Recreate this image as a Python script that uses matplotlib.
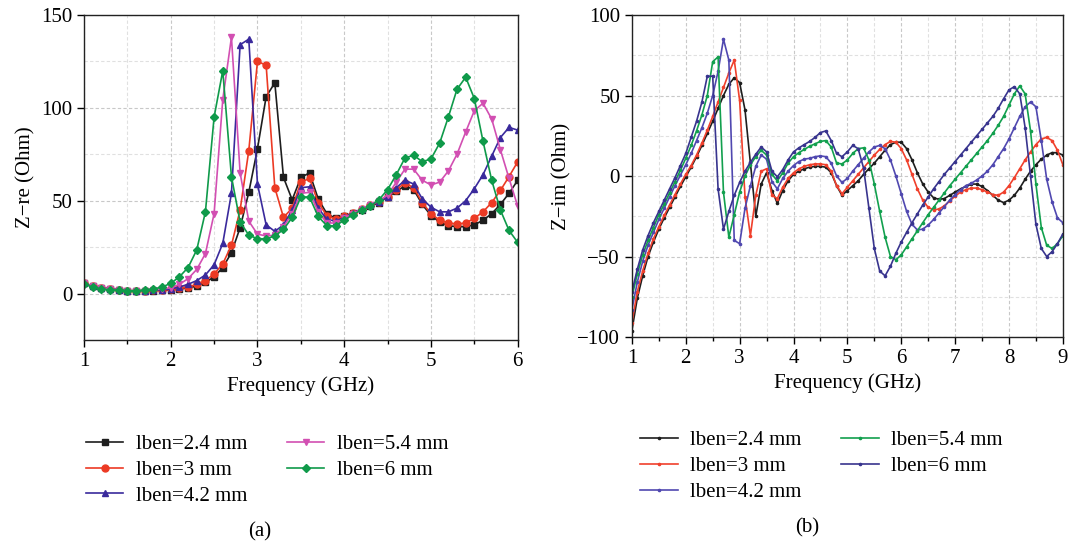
import numpy as np
import matplotlib
matplotlib.use('Agg')
import matplotlib.pyplot as plt
from matplotlib.ticker import MultipleLocator

plt.rcParams['font.family'] = ['Liberation Serif', 'DejaVu Serif']

labels = ['lben=2.4 mm', 'lben=3 mm', 'lben=4.2 mm', 'lben=5.4 mm', 'lben=6 mm']

# (a) real part, 1.0 .. 6.0 GHz step 0.1
freq_a = np.round(np.arange(1.0, 6.01, 0.1), 1)
zre_24 = [5.5, 4, 3, 2.5, 2, 1.5, 1.5, 1.5, 1.5, 1.8,
          2, 2.5, 3, 4, 6, 9, 14, 22, 35.5, 54.5,
          78, 106, 113.5, 62.5, 50.5, 62.5, 65, 51, 43, 40.5,
          41.5, 43.5, 45, 47, 49, 52, 55, 58, 56, 48,
          42, 38.5, 36.5, 36, 36, 37, 39.5, 43, 48, 54, 61]
zre_30 = [5.5, 4, 3, 2.5, 2, 1.5, 1.5, 1.5, 1.8, 2,
          2.3, 3, 3.5, 5, 7, 10.5, 16, 26, 45, 77,
          125, 123, 57, 41, 46, 60, 62, 49, 42, 40,
          41.5, 43.5, 45.5, 47.5, 49.5, 52, 56, 59.5, 57, 49,
          43, 39.5, 38, 37.5, 38, 40.5, 44, 49, 55.5, 63, 71]
zre_42 = [5.5, 4, 3, 2.5, 2, 1.5, 1.5, 1.6, 1.8, 2,
          2.5, 3.5, 5, 7, 10, 15.5, 27, 54, 134, 137,
          59, 37, 33.5, 37, 45, 57, 57.5, 46, 40, 39,
          41, 43.5, 45.5, 47.5, 49.5, 52, 57, 61, 59, 51,
          46.5, 44, 44, 46, 50, 56.5, 64, 74, 84, 89.5, 88]
zre_54 = [5.5, 4, 3, 2.5, 2, 1.6, 1.5, 1.6, 2, 2.5,
          3, 5, 8, 13, 21.5, 43, 104.5, 138, 65, 39,
          32, 31, 31.5, 36, 43, 54, 54.5, 44, 38, 38,
          40.5, 43, 45.5, 47.5, 50, 53, 60, 67, 67, 61,
          58.5, 60, 66, 75, 87, 98.5, 102.5, 94, 77.5, 62, 47]
zre_60 = [5, 3.5, 2.5, 2, 1.8, 1.5, 1.5, 1.8, 2.5, 3.5,
          5.5, 9, 14, 23.5, 44, 95, 120, 63, 38.5, 31.5,
          29.5, 29.5, 31, 34.5, 41, 52, 52, 41.5, 36.5, 36.5,
          39.5, 42.5, 45, 47, 50.5, 56, 64, 73, 74.5, 71,
          72.5, 81, 95, 110, 116.5, 105, 82, 61, 45, 34, 27.5]

# (b) imaginary part, 1.0 .. 9.0 GHz step 0.1
freq_b = np.round(np.arange(1.0, 9.01, 0.1), 1)
zim_24 = [-96, -76, -62, -50, -41, -33, -26, -19.5, -13, -6.5,
          -0.5, 5.5, 12, 19, 26.5, 34, 42, 50, 57, 61,
          58, 41, 8, -25, -5, 2, -9, -17, -9, -3,
          1, 3, 4.5, 5.5, 6, 6, 5.5, 2, -6, -12,
          -9, -6, -3, 1, 4.5, 8, 12, 16, 19.5, 21,
          21, 17, 10, 2, -5, -10, -13.5, -14.5, -14, -12,
          -10, -8, -6.5, -5, -5, -6.5, -9, -12, -15, -16.5,
          -15, -12, -7.5, -2, 3, 7, 10.5, 13, 14.5, 14.5, 13]
zim_30 = [-91, -72, -59, -48, -39, -31.5, -24.5, -18, -11.5, -5,
          1, 6.5, 13, 20.5, 28.5, 37, 46, 55, 64, 72,
          47, -13, -37, -12, 3, 4.5, -12, -14, -7, -1.5,
          2, 4.5, 6, 7, 7.5, 7.5, 7, 3, -6, -11,
          -7, -3, 1, 5, 9, 13, 16.5, 19.5, 21.5, 21,
          17, 10, 1, -8, -15, -19.5, -21, -20.5, -18.5, -15.5,
          -12.5, -10, -8.5, -7.5, -7.5, -8.5, -10, -11.5, -12, -10,
          -6, -1, 4.5, 10, 15, 19.5, 23, 24, 22, 16, 7]
zim_42 = [-83, -66, -53, -43, -35, -27, -20, -13, -6, 0.5,
          7, 14, 22, 30, 39, 50, 65, 85, 72, -40,
          -42, -20, -6, 6, 13, 10.5, -3.5, -8, -1.5, 3,
          6.5, 9, 10.5, 11, 12, 12.5, 12, 8, 0, -4,
          -1.5, 3, 7, 11, 15, 18, 19, 17, 10, 0,
          -11, -22, -30, -33.5, -33, -30.5, -27, -23, -19, -15,
          -11.5, -8.5, -6, -4.5, -2.5, 0, 3, 7, 12, 17,
          23, 30, 37, 43, 46, 43, 22, -2, -16, -26, -29]
zim_54 = [-75, -61, -49, -40, -32, -24, -17.5, -10.5, -3.5, 3.5,
          11, 19, 28, 38, 50, 71, 74, -10, -38, -24,
          -10, 0, 7, 12, 16, 13, 1, -3, 2, 8,
          12, 14.5, 16.5, 18.5, 20, 21.5, 22, 18, 8, 7.5,
          10, 14, 17, 17.5, 10, -5, -22, -38, -50, -52,
          -49, -44, -39, -34, -29, -24, -19.5, -15, -10.5, -6,
          -2, 2, 6, 10, 14, 18, 22, 26.5, 31.5, 37,
          44, 51, 56, 51, 28, -5, -32, -43, -45, -42, -37]
zim_60 = [-72, -58, -46, -37, -29, -22, -15, -8, -1, 6.5,
          14, 24, 34, 46, 62, 62, -8, -33, -22, -12,
          -4, 3, 8.5, 13.5, 18, 15, 3, -0.5, 4, 10,
          15, 17.5, 19.5, 21.5, 24, 27, 28, 22, 14, 12,
          15, 19, 17, 5, -20, -45, -59, -62, -56, -48,
          -41, -35, -29, -23.5, -18, -13, -8, -3.5, 1, 5,
          9, 13, 17, 21, 25, 29, 33, 37, 42, 48,
          53.5, 55.5, 51, 30, 0, -30, -45, -50, -47, -42, -36]

re_series = [zre_24, zre_30, zre_42, zre_54, zre_60]
re_colors = ['#1e1e1e', '#ec3a24', '#3a2a9c', '#d24fb2', '#0f9a4a']
re_markers = ['s', 'o', '^', 'v', 'D']

im_series = [zim_24, zim_30, zim_42, zim_54, zim_60]
im_colors = ['#1e1e1e', '#f0402c', '#5048b0', '#12a04e', '#38348e']

fig = plt.figure(figsize=(10.71, 5.48), dpi=100)
ax1 = fig.add_axes([0.0784, 0.3796, 0.405, 0.593])
ax2 = fig.add_axes([0.590, 0.385, 0.4024, 0.5876])


def style_axes(ax):
    ax.grid(which='major', color='#c8c8c8', linestyle=(0, (3, 2)), linewidth=0.8)
    ax.grid(which='minor', color='#e0e0e0', linestyle=(0, (3, 2)), linewidth=0.8)
    ax.set_axisbelow(True)
    ax.tick_params(which='major', direction='out', length=5, width=1, labelsize=15)
    ax.tick_params(which='minor', direction='out', length=3, width=1)
    ax.tick_params(axis='y', which='minor', length=0)
    for s in ax.spines.values():
        s.set_linewidth(1.0)
        s.set_color('#222222')
    ax.set_xlabel('Frequency (GHz)', fontsize=15)


for y, c, m, lab in zip(re_series, re_colors, re_markers, labels):
    ms = 4.2 if m == 'D' else 5
    ax1.plot(freq_a, y, color=c, marker=m, markersize=ms, linewidth=1.2, label=lab)
ax1.set_xlim(1, 6)
ax1.set_ylim(-25, 150)
ax1.xaxis.set_major_locator(MultipleLocator(1))
ax1.xaxis.set_minor_locator(MultipleLocator(0.5))
ax1.set_yticks([0, 50, 100, 150])
ax1.yaxis.set_minor_locator(MultipleLocator(25))
ax1.set_ylabel('Z\u2212re (Ohm)', fontsize=15)
style_axes(ax1)

for y, c, lab in zip(im_series, im_colors, labels):
    ax2.plot(freq_b, y, color=c, marker='o', markersize=1.6, linewidth=1.2, label=lab)
ax2.set_xlim(1, 9)
ax2.set_ylim(-100, 100)
ax2.xaxis.set_major_locator(MultipleLocator(1))
ax2.xaxis.set_minor_locator(MultipleLocator(0.5))
ax2.yaxis.set_major_locator(MultipleLocator(50))
ax2.yaxis.set_minor_locator(MultipleLocator(25))
ax2.set_ylabel('Z\u2212im (Ohm)', fontsize=15)
style_axes(ax2)

leg_kw = dict(ncol=2, frameon=False, fontsize=15, handlelength=1.8,
              handletextpad=0.6, columnspacing=1.9, labelspacing=0.3,
              borderaxespad=0)
ax1.legend(loc='upper left', bbox_to_anchor=(-0.015, -0.265), **leg_kw)
ax2.legend(loc='upper left', bbox_to_anchor=(0.0, -0.265), **leg_kw)

fig.text(260 / 1071, 1 - 532 / 548, '(a)', ha='center', va='center', fontsize=15)
fig.text(807 / 1071, 1 - 528 / 548, '(b)', ha='center', va='center', fontsize=15)

fig.savefig('out.png', dpi=100)
